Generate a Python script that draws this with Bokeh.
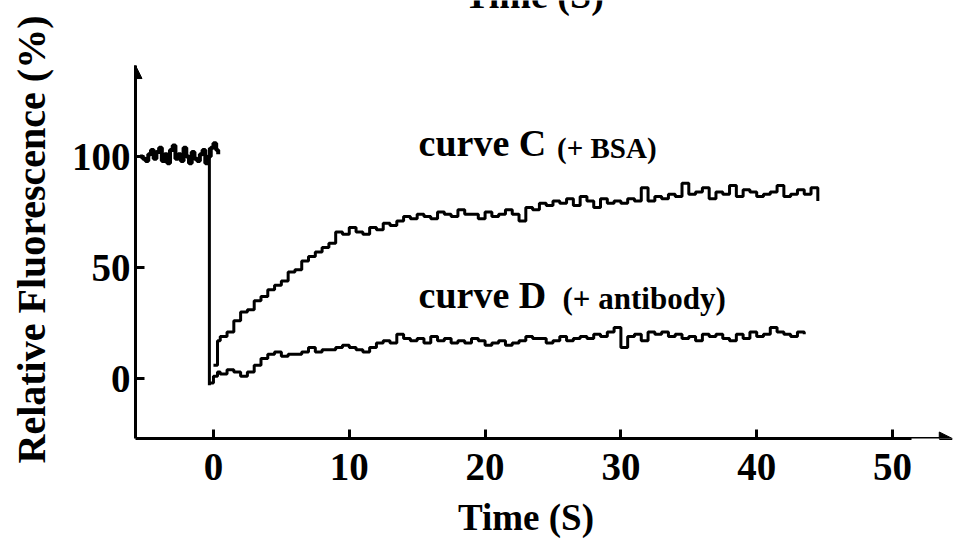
from bokeh.plotting import figure
from bokeh.models import Range1d, FixedTicker, Label, Arrow, NormalHead
from bokeh.embed import file_html
from bokeh.resources import INLINE

# ---------------- data ----------------
pre_t = [-5.4, -5.2, -5.0, -4.8, -4.6, -4.4, -4.2, -4.0, -3.8, -3.6, -3.4,
         -3.2, -3.0, -2.8, -2.6, -2.4, -2.2, -2.0, -1.8, -1.6, -1.4, -1.2,
         -1.0, -0.8, -0.6, -0.4, -0.2, 0.0, 0.2, 0.35]
pre_y = [100, 99, 98, 101, 103, 99, 102, 104, 98, 101, 97, 103, 105, 99, 101,
         98, 104, 100, 97, 102, 99, 98, 101, 103, 97, 100, 104, 106, 103, 101]

drop_t = [-0.3, -0.3]
drop_y = [104, -3]

c_t = [0.0, 0.3, 0.5, 1.0, 1.5, 2.0, 2.5, 3.0, 3.5, 4.0, 4.5, 5.0, 5.5, 6.0,
       6.5, 7.0, 7.5, 8.0, 8.5, 9.0, 9.5, 10.0, 10.5, 11.0, 11.5, 12.0, 12.5,
       13.0, 13.5, 14.0, 14.5, 15.0, 15.5, 16.0, 16.5, 17.0, 17.5, 18.0, 18.5,
       19.0, 19.5, 20.0, 20.5, 21.0, 21.5, 22.0, 22.5, 23.0, 23.5, 24.0, 24.5,
       25.0, 25.5, 26.0, 26.5, 27.0, 27.5, 28.0, 28.5, 29.0, 29.5, 30.0, 30.5,
       31.0, 31.5, 32.0, 32.5, 33.0, 33.5, 34.0, 34.5, 35.0, 35.5, 36.0, 36.5,
       37.0, 37.5, 38.0, 38.5, 39.0, 39.5, 40.0, 40.5, 41.0, 41.5, 42.0, 42.5,
       43.0, 43.5, 44.0, 44.5]
c_y = [6, 17, 19, 21, 26, 30, 31, 35, 37, 40, 42, 44, 48, 49, 53, 55, 57, 59,
       61, 66, 65, 68, 66, 65, 68, 67, 70, 69, 71, 73, 72, 74, 73, 72, 75, 74,
       73, 76, 74, 74, 72, 75, 73, 74, 76, 74, 71, 77, 76, 79, 78, 80, 79, 81,
       78, 82, 80, 77, 81, 79, 80, 79, 81, 80, 86, 80, 82, 81, 83, 82, 88, 83,
       84, 86, 81, 84, 83, 87, 82, 85, 84, 82, 83, 84, 87, 82, 83, 85, 83, 86,
       80]

d_t = [-0.4, 0.0, 0.3, 0.5, 1.0, 1.5, 2.0, 2.5, 3.0, 3.5, 4.0, 4.5, 5.0, 5.5,
       6.0, 6.5, 7.0, 7.5, 8.0, 8.5, 9.0, 9.5, 10.0, 10.5, 11.0, 11.5, 12.0,
       12.5, 13.0, 13.5, 14.0, 14.5, 15.0, 15.5, 16.0, 16.5, 17.0, 17.5, 18.0,
       18.5, 19.0, 19.5, 20.0, 20.5, 21.0, 21.5, 22.0, 22.5, 23.0, 23.5, 24.0,
       24.5, 25.0, 25.5, 26.0, 26.5, 27.0, 27.5, 28.0, 28.5, 29.0, 29.5, 30.0,
       30.5, 31.0, 31.5, 32.0, 32.5, 33.0, 33.5, 34.0, 34.5, 35.0, 35.5, 36.0,
       36.5, 37.0, 37.5, 38.0, 38.5, 39.0, 39.5, 40.0, 40.5, 41.0, 41.5, 42.0,
       42.5, 43.0, 43.5]
d_y = [-2, 1, 3, 2, 4, 3, 1, 3, 6, 9, 11, 12, 10, 11, 11, 12, 14, 12, 13, 13,
       14, 15, 14, 13, 12, 14, 16, 17, 16, 20, 18, 17, 18, 16, 19, 17, 18, 16,
       17, 16, 18, 17, 15, 16, 17, 15, 16, 17, 19, 18, 18, 16, 17, 19, 17, 18,
       19, 18, 20, 19, 21, 23, 14, 19, 20, 17, 21, 20, 21, 19, 20, 18, 19, 17,
       20, 19, 20, 18, 17, 20, 18, 21, 19, 20, 23, 21, 20, 19, 21, 20]

x_ticks = [0, 10, 20, 30, 40, 50]
y_ticks = [0, 50, 100]

x_title = "Time (S)"
y_title = "Relative Fluorescence (%)"
label_c = ("curve C", "(+ BSA)")
label_d = ("curve D", "(+ antibody)")

FONT = "Liberation Serif"
NBSP = "\u00a0"

X0, X1 = -5.74, 54.49
Y0, Y1 = -27.0, 170.3
Y_AXIS_TOP = 141.0

# ---------------- figure ----------------
p = figure(width=961, height=543, output_backend="svg", toolbar_location=None,
           x_range=Range1d(X0, X1), y_range=Range1d(Y0, Y1),
           min_border_left=135, min_border_right=8, min_border_top=0,
           min_border_bottom=105)
p.outline_line_color = None
p.grid.visible = False
p.background_fill_color = "white"
p.border_fill_color = "white"

for ax in (p.xaxis[0], p.yaxis[0]):
    ax.axis_line_width = 3
    ax.axis_line_color = "black"
    ax.major_tick_in = 9
    ax.major_tick_out = 0
    ax.major_tick_line_width = 3
    ax.minor_tick_line_color = None
    ax.major_label_text_font = FONT
    ax.major_label_text_font_style = "bold"
    ax.major_label_text_font_size = "39px"
    ax.major_label_text_color = "black"
    ax.axis_label_text_font = FONT
    ax.axis_label_text_font_style = "bold"
    ax.axis_label_text_color = "black"

p.xaxis.ticker = FixedTicker(ticks=x_ticks)
p.yaxis.ticker = FixedTicker(ticks=y_ticks)
p.xaxis.major_label_standoff = 15
p.yaxis.major_label_standoff = 5
p.xaxis.bounds = (X0, 51.4)
p.yaxis.bounds = (Y0, Y_AXIS_TOP)

# trailing no-break spaces shift the centred titles to where the reference has them
p.xaxis.axis_label = x_title + NBSP * 4
p.xaxis.axis_label_text_font_size = "37px"
p.xaxis.axis_label_standoff = 14
p.yaxis.axis_label = y_title + NBSP * 4
p.yaxis.axis_label_text_font_size = "40px"
p.yaxis.axis_label_standoff = 15

# arrow heads at axis ends
p.add_layout(Arrow(end=NormalHead(size=13, fill_color="black", line_color="black"),
                   x_start=50, y_start=Y0, x_end=54.4, y_end=Y0,
                   line_width=3, line_color="black"))
p.add_layout(Arrow(end=NormalHead(size=13, fill_color="black", line_color="black"),
                   x_start=X0, y_start=125, x_end=X0, y_end=Y_AXIS_TOP,
                   line_width=3, line_color="black"))

# data curves
p.step(pre_t, pre_y, mode="after", line_width=4, line_color="black")
p.line(drop_t, drop_y, line_width=3, line_color="black")
p.step(c_t, c_y, mode="after", line_width=3, line_color="black")
p.step(d_t, d_y, mode="after", line_width=3, line_color="black")

def lab(text, x, y, size, **kw):
    p.add_layout(Label(text=text, x=x, y=y, text_font=FONT,
                       text_font_style="bold", text_font_size=size,
                       text_color="black", **kw))

lab(label_c[0], 15.1, 96.8, "38px")
lab(label_c[1], 25.3, 96.8, "29px")
lab(label_d[0], 15.1, 28.4, "38px")
lab(label_d[1], 25.7, 28.4, "31px")

# cut-off title of the panel above (only its lower edge is visible)
lab(x_title, 23.6, 163.5, "38px", text_align="center")

open("out.html", "w").write(file_html(p, INLINE))
